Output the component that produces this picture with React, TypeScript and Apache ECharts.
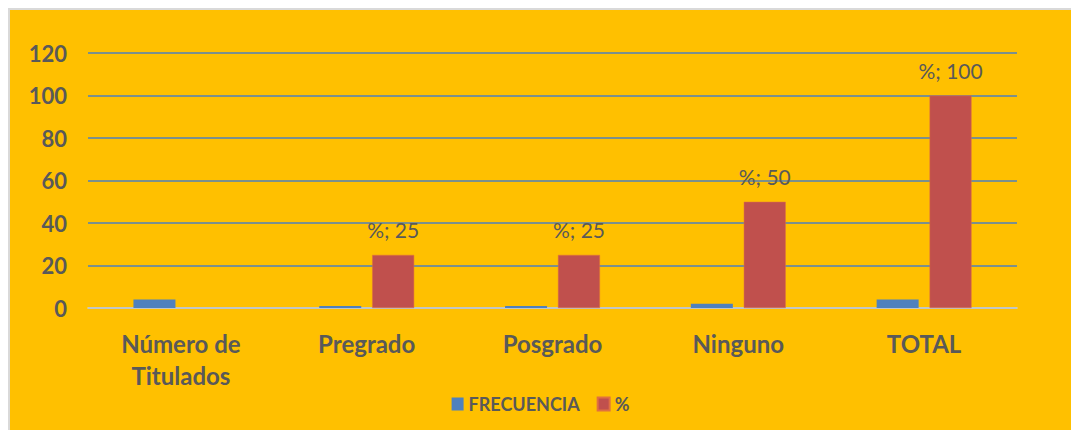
import React, { useEffect, useRef } from "react";
import * as echarts from "echarts";

const categories = ["Número de\nTitulados", "Pregrado", "Posgrado", "Ninguno", "TOTAL"];
const frecuencia = [4, 1, 1, 2, 4];
const porcentaje: (number | null)[] = [null, 25, 25, 50, 100];
const yTicks = { min: 0, max: 120, interval: 20 };

const FONT = "Lato, 'Open Sans', sans-serif";
const TEXT = "#595959";

export default function App() {
  const ref = useRef<HTMLDivElement>(null);
  useEffect(() => {
    document.documentElement.style.overflow = "hidden";
    if (!ref.current) return;
    const chart = echarts.init(ref.current, null, { renderer: "svg" });
    chart.setOption({
      animation: false,
      backgroundColor: "#FFC000",
      textStyle: { fontFamily: FONT },
      grid: { left: 78, right: 54, top: 43, bottom: 122, containLabel: false },
      legend: {
        data: ["FRECUENCIA", "%"],
        left: "center",
        bottom: 12,
        itemWidth: 12,
        itemHeight: 13,
        itemGap: 17,
        icon: "rect",
        textStyle: { fontFamily: FONT, fontSize: 18, fontWeight: "bold", color: TEXT },
      },
      xAxis: {
        type: "category",
        data: categories,
        axisLine: { lineStyle: { color: "#D9D9D9", width: 1.5 } },
        axisTick: { show: false },
        axisLabel: {
          fontFamily: FONT,
          fontSize: 24,
          fontWeight: "bold",
          color: TEXT,
          margin: 19,
          lineHeight: 32,
          interval: 0,
        },
      },
      yAxis: {
        type: "value",
        min: yTicks.min,
        max: yTicks.max,
        interval: yTicks.interval,
        axisLine: { show: false },
        axisTick: { show: false },
        splitLine: { lineStyle: { color: "#4F81BD", width: 1.5 } },
        axisLabel: {
          fontFamily: FONT,
          fontSize: 22,
          fontWeight: "bold",
          color: TEXT,
          margin: 21,
        },
      },
      series: [
        {
          name: "FRECUENCIA",
          type: "bar",
          data: frecuencia,
          barWidth: 42,
          barGap: "26%",
          itemStyle: { color: "#4F81BD" },
        },
        {
          name: "%",
          type: "bar",
          data: porcentaje,
          barWidth: 42,
          itemStyle: { color: "#C0504D", borderColor: "#E07040", borderWidth: 0.5 },
          label: {
            show: true,
            position: "top",
            distance: 15,
            formatter: (p: any) => `%; ${p.value}`,
            fontFamily: FONT,
            fontSize: 21,
            color: TEXT,
          },
        },
      ],
    });
    return () => chart.dispose();
  }, []);
  return (
    <div
      style={{
        position: "fixed",
        left: 8,
        top: 8,
        width: 1063,
        height: 422,
        boxSizing: "border-box",
        borderTop: "2px solid #D9D9D9",
        borderLeft: "2px solid #D9D9D9",
        background: "#FFC000",
      }}
    >
      <div ref={ref} style={{ width: 1061, height: 420 }} />
    </div>
  );
}
